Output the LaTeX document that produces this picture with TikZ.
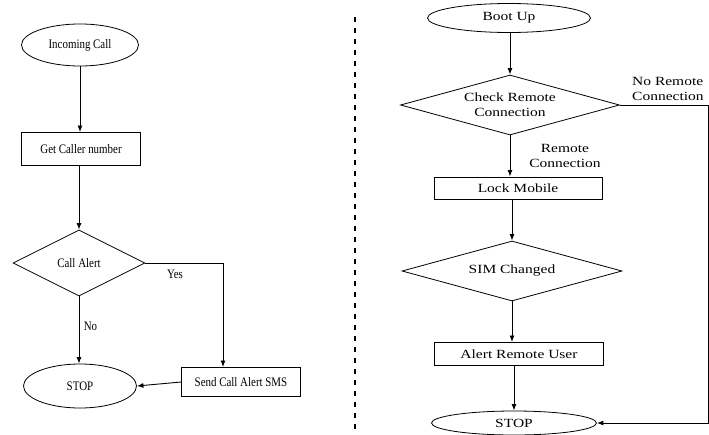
\documentclass[tikz,border=0pt]{standalone}
\usepackage{fontspec}
\setmainfont{Liberation Serif}
\newfontfamily\lfont[FakeStretch=0.84]{Liberation Serif}
\newfontfamily\rfont[FakeStretch=1.24]{Liberation Serif}
\usetikzlibrary{shapes.geometric,arrows.meta}
\begin{document}
\begin{tikzpicture}[x=1pt,y=-1pt,
  arr/.style={-{Latex[length=6.5pt,width=5pt]}, line width=0.9pt},
  lt/.style={font=\lfont\fontsize{13}{15}\selectfont},
  rt/.style={font=\rfont\fontsize{12.5}{15}\selectfont},
  term/.style={draw, ellipse, line width=0.8pt, inner sep=0pt},
  proc/.style={draw, rectangle, line width=1pt, inner sep=0pt},
  dec/.style={draw, diamond, line width=0.8pt, inner sep=0pt, aspect=3},
  sep/.style={line width=1.3pt, dash pattern=on 5pt off 6pt}]
\useasboundingbox (0,0) rectangle (709,434);

% ---------- left flowchart ----------
\node[term, lt, minimum width=117pt, minimum height=42pt] (inc) at (80,45) {Incoming Call};
\node[proc, lt, minimum width=119pt, minimum height=33pt] (gcn) at (81,149) {Get Caller number};
\node[dec, lt, minimum width=132pt, minimum height=66pt] (ca) at (79,263) {Call Alert};
\node[term, lt, minimum width=113pt, minimum height=44pt] (stop1) at (80,386) {STOP};
\node[proc, lt, minimum width=119pt, minimum height=29pt] (sms) at (241,382) {Send Call Alert SMS};

\draw[arr] (inc.south) -- (inc.south |- gcn.north);
\draw[arr] (gcn.south -| ca.north) -- (ca.north);
\draw[arr] (ca.south) -- node[lt, right, pos=0.45, xshift=1pt] {No} (ca.south |- stop1.north);
\coordinate (yesdown) at (223,263);
\draw[arr] (ca.east) -- (yesdown) -- (yesdown |- sms.north);
\node[lt] (yes) at (175,274) {Yes};
\draw[arr] (sms.west) -- (stop1.east);

% ---------- separator ----------
\coordinate (sepTop) at (355,17);
\coordinate (sepBot) at (355,434);
\draw[sep] (sepTop) -- (sepBot);

% ---------- right flowchart ----------
\node[term, rt, minimum width=163pt, minimum height=29pt] (boot) at (509,18) {Boot Up};
\node[dec, rt, align=center, minimum width=219pt, minimum height=60pt, aspect=3.65] (crc) at (510,105) {Check Remote\\Connection};
\node[proc, rt, minimum width=168pt, minimum height=22pt] (lock) at (518,188) {Lock Mobile};
\node[dec, rt, minimum width=220pt, minimum height=60pt, aspect=3.65] (sim) at (512,271) {SIM Changed};
\node[proc, rt, minimum width=169pt, minimum height=23pt] (aru) at (519,354) {Alert Remote User};
\node[term, rt, minimum width=165pt, minimum height=24pt] (stop2) at (514,423) {STOP};

\draw[arr] (boot.south -| crc.north) -- (crc.north);
\draw[arr] (crc.south) -- (crc.south |- lock.north);
\node[rt, align=center] (rc) at (565,156) {Remote\\Connection};
\draw[arr] (lock.south -| sim.north) -- (sim.north);
\draw[arr] (sim.south) -- (sim.south |- aru.north);
\draw[arr] (aru.south -| stop2.north) -- (stop2.north);
\coordinate (nrc) at (708,105);
\draw[arr] (crc.east) -- (nrc) |- (stop2.east);
\node[rt, align=left, anchor=west, inner xsep=0pt] (nrl) at (632,89) {No Remote\\Connection};
\end{tikzpicture}
\end{document}
